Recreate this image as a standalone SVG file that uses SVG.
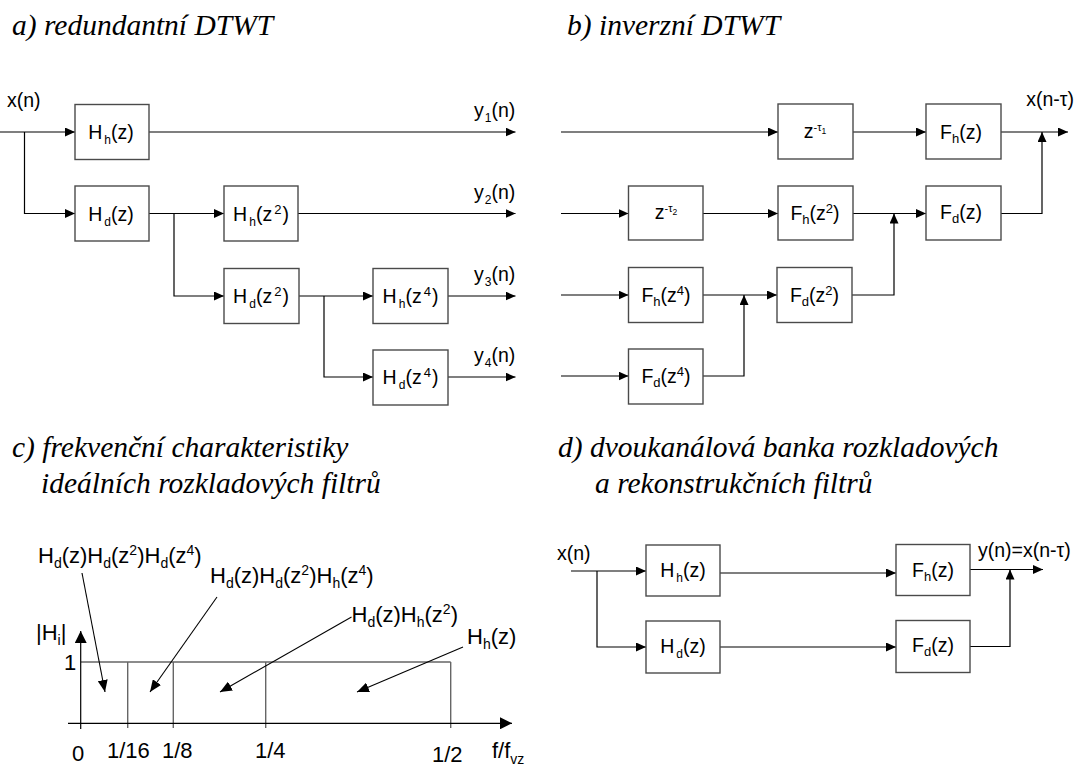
<svg xmlns="http://www.w3.org/2000/svg" width="1076" height="765" viewBox="0 0 1076 765">
  <defs>
    <style>
      .title { font-family: "Liberation Serif", "Times New Roman", serif; font-style: italic; font-size: 29.5px; fill: #000; }
      .lbl { font-family: "Liberation Sans", Arial, sans-serif; font-size: 19.5px; fill: #000; }
      .big { font-family: "Liberation Sans", Arial, sans-serif; font-size: 22px; fill: #000; }
      .mid { text-anchor: middle; }
      .end { text-anchor: end; }
      .s11 { font-size: 12px; }
      .s12 { font-size: 13px; }
      .s13 { font-size: 14px; }
      .s10 { font-size: 11px; }
      .s8 { font-size: 8.5px; }
      .box { fill: #fff; stroke: #4a4a4a; stroke-width: 1.4; }
      .wire { fill: none; stroke: #000; stroke-width: 1.2; marker-end: url(#ah); }
      .frame { fill: none; stroke: #666; stroke-width: 1.4; }
      .axis { fill: none; stroke: #000; stroke-width: 1.2; marker-end: url(#ahBig); }
      .ptr { fill: none; stroke: #000; stroke-width: 1.1; marker-end: url(#ahPtr); }
    </style>
    <marker id="ah" markerUnits="userSpaceOnUse" markerWidth="10" markerHeight="9" refX="10" refY="4.5" orient="auto">
      <path d="M0,0 L10,4.5 L0,9 z" fill="#000"/>
    </marker>
    <marker id="ahBig" markerUnits="userSpaceOnUse" markerWidth="12" markerHeight="12" refX="12" refY="6" orient="auto">
      <path d="M0,0 L12,6 L0,12 z" fill="#000"/>
    </marker>
    <marker id="ahPtr" markerUnits="userSpaceOnUse" markerWidth="12" markerHeight="10" refX="12" refY="5" orient="auto">
      <path d="M0,0 L12,5 L0,10 z" fill="#000"/>
    </marker>
  </defs>

  <rect width="1076" height="765" fill="#fff"/>

  <!-- section titles -->
  <g id="titles">
    <text class="title" x="12" y="35">a) redundantní DTWT</text>
    <text class="title" x="567" y="35">b) inverzní DTWT</text>
    <text class="title" x="12" y="457">c) frekvenční charakteristiky</text>
    <text class="title" x="41" y="493">ideálních rozkladových filtrů</text>
    <text class="title" x="558" y="457">d) dvoukanálová banka rozkladových</text>
    <text class="title" x="595" y="493">a rekonstrukčních filtrů</text>
  </g>

  <!-- ===== a) analysis tree ===== -->
  <g id="a-connectors">
    <path class="wire" d="M0,132 H75"/>
    <path class="wire" d="M24.5,132 V213.5 H75"/>
    <path class="wire" d="M149,132 H515.5"/>
    <path class="wire" d="M149,213.5 H224"/>
    <path class="wire" d="M174,213.5 V296 H224"/>
    <path class="wire" d="M298,213.5 H515.5"/>
    <path class="wire" d="M298,296 H373"/>
    <path class="wire" d="M324,296 V377 H373"/>
    <path class="wire" d="M448,296 H515.5"/>
    <path class="wire" d="M448,377 H515.5"/>
  </g>
  <g id="a-signals">
    <text class="lbl" x="7" y="107">x(n)</text>
    <text class="lbl" x="474" y="117">y<tspan class="s11" dx="1" dy="5">1</tspan><tspan dy="-5">(n)</tspan></text>
    <text class="lbl" x="474" y="198.5">y<tspan class="s11" dx="1" dy="5">2</tspan><tspan dy="-5">(n)</tspan></text>
    <text class="lbl" x="474" y="281">y<tspan class="s11" dx="1" dy="5">3</tspan><tspan dy="-5">(n)</tspan></text>
    <text class="lbl" x="474" y="362">y<tspan class="s11" dx="1" dy="5">4</tspan><tspan dy="-5">(n)</tspan></text>
  </g>
  <g id="a-Hh-z">
    <rect class="box" x="75" y="104.5" width="74" height="55"/>
    <text class="lbl mid" x="111" y="139">H<tspan class="s11" dx="2" dy="5">h</tspan><tspan dy="-5">(z)</tspan></text>
  </g>
  <g id="a-Hd-z">
    <rect class="box" x="75" y="186" width="74" height="55"/>
    <text class="lbl mid" x="111" y="220.5">H<tspan class="s11" dx="2" dy="5">d</tspan><tspan dy="-5">(z)</tspan></text>
  </g>
  <g id="a-Hh-z2">
    <rect class="box" x="224" y="186" width="74" height="55"/>
    <text class="lbl mid" x="261" y="220.5">H<tspan class="s11" dx="2" dy="5">h</tspan><tspan dy="-5">(z</tspan><tspan class="s12" dx="2" dy="-7">2</tspan><tspan dx="1" dy="7">)</tspan></text>
  </g>
  <g id="a-Hd-z2">
    <rect class="box" x="224" y="268.5" width="75" height="55"/>
    <text class="lbl mid" x="261" y="303">H<tspan class="s11" dx="2" dy="5">d</tspan><tspan dy="-5">(z</tspan><tspan class="s12" dx="2" dy="-7">2</tspan><tspan dx="1" dy="7">)</tspan></text>
  </g>
  <g id="a-Hh-z4">
    <rect class="box" x="373" y="268.5" width="75" height="55"/>
    <text class="lbl mid" x="410.5" y="303">H<tspan class="s11" dx="2" dy="5">h</tspan><tspan dy="-5">(z</tspan><tspan class="s12" dx="2" dy="-7">4</tspan><tspan dx="1" dy="7">)</tspan></text>
  </g>
  <g id="a-Hd-z4">
    <rect class="box" x="373" y="350" width="75" height="55"/>
    <text class="lbl mid" x="410.5" y="384">H<tspan class="s11" dx="2" dy="5">d</tspan><tspan dy="-5">(z</tspan><tspan class="s12" dx="2" dy="-7">4</tspan><tspan dx="1" dy="7">)</tspan></text>
  </g>

  <!-- ===== b) synthesis tree ===== -->
  <g id="b-connectors">
    <path class="wire" d="M561,132 H778"/>
    <path class="wire" d="M853,132 H926"/>
    <path class="wire" d="M1001,132 H1068"/>
    <path class="wire" d="M1001,213.5 H1042 V132"/>
    <path class="wire" d="M561,213.5 H628.5"/>
    <path class="wire" d="M703,213.5 H778"/>
    <path class="wire" d="M853,213.5 H926"/>
    <path class="wire" d="M852,295 H894 V213.5"/>
    <path class="wire" d="M561,295 H628.5"/>
    <path class="wire" d="M703,295 H777"/>
    <path class="wire" d="M703,376 H744 V295"/>
    <path class="wire" d="M561,376 H628.5"/>
  </g>
  <g id="b-signals">
    <text class="lbl end" x="1074" y="106">x(n-τ)</text>
  </g>
  <g id="b-delay1">
    <rect class="box" x="778" y="104" width="75" height="55"/>
    <text class="lbl mid" x="815" y="138">z<tspan class="s10" dy="-7">-τ</tspan><tspan class="s8" dy="3">1</tspan></text>
  </g>
  <g id="b-Fh-z">
    <rect class="box" x="926" y="104" width="75" height="55"/>
    <text class="lbl mid" x="961" y="138.5">F<tspan class="s12" dy="4">h</tspan><tspan dy="-4">(z)</tspan></text>
  </g>
  <g id="b-delay2">
    <rect class="box" x="628.5" y="186" width="74.5" height="54"/>
    <text class="lbl mid" x="666" y="219">z<tspan class="s10" dy="-7">-τ</tspan><tspan class="s8" dy="3">2</tspan></text>
  </g>
  <g id="b-Fh-z2">
    <rect class="box" x="778" y="186" width="75" height="54"/>
    <text class="lbl mid" x="815" y="220">F<tspan class="s12" dy="4">h</tspan><tspan dy="-4">(z</tspan><tspan class="s12" dy="-7">2</tspan><tspan dy="7">)</tspan></text>
  </g>
  <g id="b-Fd-z">
    <rect class="box" x="926" y="186" width="75" height="54"/>
    <text class="lbl mid" x="961" y="219">F<tspan class="s12" dy="4">d</tspan><tspan dy="-4">(z)</tspan></text>
  </g>
  <g id="b-Fh-z4">
    <rect class="box" x="628.5" y="267.5" width="74.5" height="55"/>
    <text class="lbl mid" x="666" y="301.5">F<tspan class="s12" dy="4">h</tspan><tspan dy="-4">(z</tspan><tspan class="s12" dy="-7">4</tspan><tspan dy="7">)</tspan></text>
  </g>
  <g id="b-Fd-z2">
    <rect class="box" x="777" y="267.5" width="75" height="55"/>
    <text class="lbl mid" x="814.5" y="301.5">F<tspan class="s12" dy="4">d</tspan><tspan dy="-4">(z</tspan><tspan class="s12" dy="-7">2</tspan><tspan dy="7">)</tspan></text>
  </g>
  <g id="b-Fd-z4">
    <rect class="box" x="628.5" y="349" width="74.5" height="55"/>
    <text class="lbl mid" x="666" y="382.5">F<tspan class="s12" dy="4">d</tspan><tspan dy="-4">(z</tspan><tspan class="s12" dy="-7">4</tspan><tspan dy="7">)</tspan></text>
  </g>

  <!-- ===== c) ideal magnitude responses ===== -->
  <g id="c-chart">
    <path class="frame" d="M81,662 H450.7 M127.7,662 V728 M173.3,662 V728 M265.7,662 V728 M450.7,662 V728"/>
    <path class="axis" d="M80.7,729 V631"/>
    <path class="axis" d="M68,723.3 H512"/>
    <text class="big" x="36" y="640">|H<tspan class="s13" dy="5">i</tspan><tspan dy="-5">|</tspan></text>
    <text class="big" x="64" y="670">1</text>
    <text class="big" x="72" y="761">0</text>
    <text class="big" x="107" y="758">1/16</text>
    <text class="big" x="162" y="758">1/8</text>
    <text class="big" x="255" y="758">1/4</text>
    <text class="big" x="432" y="762">1/2</text>
    <text class="big" x="492" y="758">f/f<tspan class="s13" dy="6">vz</tspan></text>
  </g>
  <g id="c-pointers">
    <path class="ptr" d="M82,573 L105,692"/>
    <path class="ptr" d="M217,597 L150,692"/>
    <path class="ptr" d="M351.5,617 L220,692"/>
    <path class="ptr" d="M463,647 L357,692"/>
  </g>
  <g id="c-labels">
    <text class="big" x="38" y="563">H<tspan class="s13" dy="5">d</tspan><tspan dy="-5">(z)H</tspan><tspan class="s13" dy="5">d</tspan><tspan dy="-5">(z</tspan><tspan class="s13" dy="-8">2</tspan><tspan dy="8">)H</tspan><tspan class="s13" dy="5">d</tspan><tspan dy="-5">(z</tspan><tspan class="s13" dy="-8">4</tspan><tspan dy="8">)</tspan></text>
    <text class="big" x="210" y="583">H<tspan class="s13" dy="5">d</tspan><tspan dy="-5">(z)H</tspan><tspan class="s13" dy="5">d</tspan><tspan dy="-5">(z</tspan><tspan class="s13" dy="-8">2</tspan><tspan dy="8">)H</tspan><tspan class="s13" dy="5">h</tspan><tspan dy="-5">(z</tspan><tspan class="s13" dy="-8">4</tspan><tspan dy="8">)</tspan></text>
    <text class="big" x="351.5" y="622">H<tspan class="s13" dy="5">d</tspan><tspan dy="-5">(z)H</tspan><tspan class="s13" dy="5">h</tspan><tspan dy="-5">(z</tspan><tspan class="s13" dy="-8">2</tspan><tspan dy="8">)</tspan></text>
    <text class="big" x="467" y="644">H<tspan class="s13" dy="5">h</tspan><tspan dy="-5">(z)</tspan></text>
  </g>

  <!-- ===== d) two-channel filter bank ===== -->
  <g id="d-connectors">
    <path class="wire" d="M571,571 H646"/>
    <path class="wire" d="M597,571 V647 H646"/>
    <path class="wire" d="M720,573 H896"/>
    <path class="wire" d="M720,647 H896"/>
    <path class="wire" d="M970,569.5 H1043"/>
    <path class="wire" d="M970,646.5 H1010 V569.5"/>
  </g>
  <g id="d-signals">
    <text class="lbl" x="557" y="560">x(n)</text>
    <text class="lbl" x="978" y="557">y(n)=x(n-τ)</text>
  </g>
  <g id="d-Hh-z">
    <rect class="box" x="646" y="545" width="74" height="51"/>
    <text class="lbl mid" x="683" y="577">H<tspan class="s11" dx="2" dy="5">h</tspan><tspan dy="-5">(z)</tspan></text>
  </g>
  <g id="d-Hd-z">
    <rect class="box" x="646" y="621" width="74" height="52"/>
    <text class="lbl mid" x="683" y="653">H<tspan class="s11" dx="2" dy="5">d</tspan><tspan dy="-5">(z)</tspan></text>
  </g>
  <g id="d-Fh-z">
    <rect class="box" x="896" y="544.5" width="74" height="51"/>
    <text class="lbl mid" x="933" y="577">F<tspan class="s12" dy="4">h</tspan><tspan dy="-4">(z)</tspan></text>
  </g>
  <g id="d-Fd-z">
    <rect class="box" x="896" y="620.5" width="74" height="52"/>
    <text class="lbl mid" x="933" y="652">F<tspan class="s12" dy="4">d</tspan><tspan dy="-4">(z)</tspan></text>
  </g>
</svg>
